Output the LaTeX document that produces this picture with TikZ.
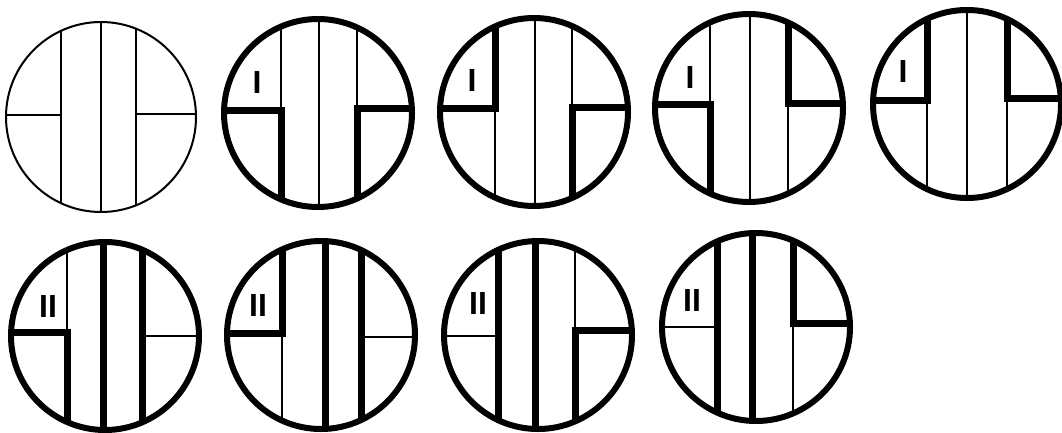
\documentclass[tikz,border=0pt]{standalone}
\usepackage{fontspec}
\setsansfont{Liberation Sans}
\tikzset{
  hairline/.style={line width=1.8pt},
  heavyline/.style={line width=7pt},
  thinrim/.style={line width=2pt},
  boldrim/.style={line width=6pt},
  numeral/.style={font=\sffamily\bfseries\fontsize{32}{32}\selectfont, inner sep=0pt}
}

\begin{document}
\begin{tikzpicture}[x=1pt, y=-1pt]
  \fill[white] (0,0) rectangle (1062,432);
  \useasboundingbox (0,0) rectangle (1062,432);

  \begin{scope}[shift={(101,117)}]
    \begin{scope}
      \clip (0,0) circle (95);
      \draw[hairline] (-40,-100) -- (-40,100);
      \draw[hairline] (0,-100) -- (0,100);
      \draw[hairline] (35,-100) -- (35,100);
      \draw[hairline] (-100,-2) -- (-40,-2);
      \draw[hairline] (35,-3) -- (100,-3);
    \end{scope}
    \draw[thinrim] (0,0) circle (95);
  \end{scope}

  \begin{scope}[shift={(318,113)}]
    \begin{scope}
      \clip (0,0) circle (94);
      \draw[hairline] (-37,-100) -- (-37,-3);
      \draw[hairline] (1,-100) -- (1,100);
      \draw[hairline] (39,-100) -- (39,-5);
      \draw[heavyline] (-100,-3) -- (-37,-3) -- (-37,100);
      \draw[heavyline] (100,-5) -- (39,-5) -- (39,100);
    \end{scope}
    \draw[boldrim] (0,0) circle (94);
    \node[numeral] (lab2) at (-61,-31) {I};
  \end{scope}

  \begin{scope}[shift={(534,112)}]
    \begin{scope}
      \clip (0,0) circle (94);
      \draw[hairline] (-39,-4) -- (-39,100);
      \draw[hairline] (1,-100) -- (1,100);
      \draw[hairline] (38,-100) -- (38,-5);
      \draw[heavyline] (-100,-4) -- (-39,-4) -- (-39,-100);
      \draw[heavyline] (100,-5) -- (38,-5) -- (38,100);
    \end{scope}
    \draw[boldrim] (0,0) circle (94);
    \node[numeral] (lab3) at (-62,-32) {I};
  \end{scope}

  \begin{scope}[shift={(749,108)}]
    \begin{scope}
      \clip (0,0) circle (94);
      \draw[hairline] (-39,-100) -- (-39,-4);
      \draw[hairline] (1,-100) -- (1,100);
      \draw[hairline] (39,-5) -- (39,100);
      \draw[heavyline] (-100,-4) -- (-39,-4) -- (-39,100);
      \draw[heavyline] (100,-5) -- (39,-5) -- (39,-100);
    \end{scope}
    \draw[boldrim] (0,0) circle (94);
    \node[numeral] (lab4) at (-59,-31) {I};
  \end{scope}

  \begin{scope}[shift={(967,104)}]
    \begin{scope}
      \clip (0,0) circle (94);
      \draw[hairline] (-40,-4) -- (-40,100);
      \draw[hairline] (0,-100) -- (0,100);
      \draw[hairline] (40,-6) -- (40,100);
      \draw[heavyline] (-100,-4) -- (-40,-4) -- (-40,-100);
      \draw[heavyline] (100,-6) -- (40,-6) -- (40,-100);
    \end{scope}
    \draw[boldrim] (0,0) circle (94);
    \node[numeral] (lab5) at (-64,-33) {I};
  \end{scope}

  \begin{scope}[shift={(105,336)}]
    \begin{scope}
      \clip (0,0) circle (94);
      \draw[hairline] (-38,-100) -- (-38,-4);
      \draw[hairline] (37,0) -- (100,0);
      \draw[heavyline] (-100,-4) -- (-38,-4) -- (-38,100);
      \draw[heavyline] (-2,-100) -- (-2,100);
      \draw[heavyline] (37,-100) -- (37,100);
    \end{scope}
    \draw[boldrim] (0,0) circle (94);
    \node[numeral] (lab6) at (-57,-30) {II};
  \end{scope}

  \begin{scope}[shift={(321,335)}]
    \begin{scope}
      \clip (0,0) circle (94);
      \draw[hairline] (-39,-2) -- (-39,100);
      \draw[hairline] (40,2) -- (100,2);
      \draw[heavyline] (-100,-2) -- (-39,-2) -- (-39,-100);
      \draw[heavyline] (4,-100) -- (4,100);
      \draw[heavyline] (40,-100) -- (40,100);
    \end{scope}
    \draw[boldrim] (0,0) circle (94);
    \node[numeral] (lab7) at (-63,-30) {II};
  \end{scope}

  \begin{scope}[shift={(538,335)}]
    \begin{scope}
      \clip (0,0) circle (94);
      \draw[hairline] (-100,1) -- (-40,1);
      \draw[hairline] (37,-100) -- (37,-5);
      \draw[heavyline] (-40,-100) -- (-40,100);
      \draw[heavyline] (-3,-100) -- (-3,100);
      \draw[heavyline] (100,-5) -- (37,-5) -- (37,100);
    \end{scope}
    \draw[boldrim] (0,0) circle (94);
    \node[numeral] (lab8) at (-60,-32) {II};
  \end{scope}

  \begin{scope}[shift={(756,327)}]
    \begin{scope}
      \clip (0,0) circle (94);
      \draw[hairline] (-100,0) -- (-39,0);
      \draw[hairline] (37,-4) -- (37,100);
      \draw[heavyline] (-39,-100) -- (-39,100);
      \draw[heavyline] (-4,-100) -- (-4,100);
      \draw[heavyline] (100,-4) -- (37,-4) -- (37,-100);
    \end{scope}
    \draw[boldrim] (0,0) circle (94);
    \node[numeral] (lab9) at (-64,-27) {II};
  \end{scope}
\end{tikzpicture}
\end{document}
